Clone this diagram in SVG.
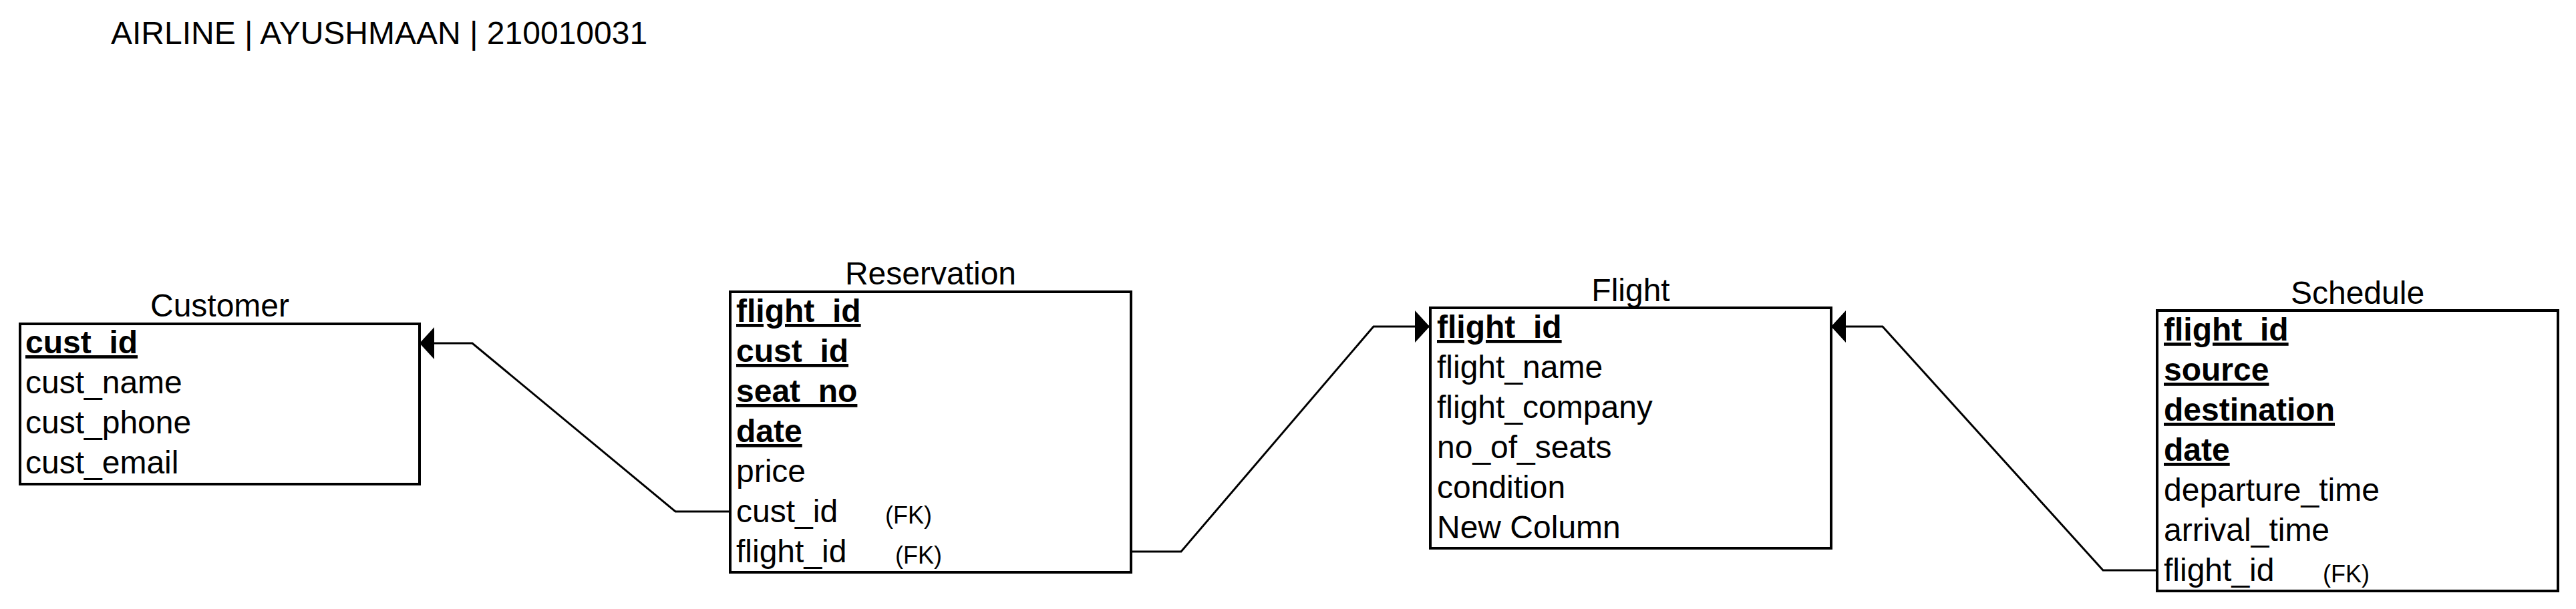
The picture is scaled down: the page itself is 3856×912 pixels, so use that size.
<svg xmlns="http://www.w3.org/2000/svg" width="3856" height="912" viewBox="0 0 3856 912">
<style>
text{font-family:"Liberation Sans",Arial,Helvetica,sans-serif;fill:#000}
.t{font-size:48px}
.h{font-size:48px;text-anchor:middle}
.r{font-size:48px}
.pk{font-size:48px;font-weight:bold;text-decoration:underline}
.fk{font-size:36px}
.box{fill:#fff;stroke:#000;stroke-width:4}
.edge{fill:none;stroke:#000;stroke-width:3}
</style>
<defs>
<marker id="arr" viewBox="0 0 22 48" refX="22" refY="24" markerWidth="22" markerHeight="48" markerUnits="userSpaceOnUse" orient="auto">
<path d="M0,0 L22,24 L0,48 Z" fill="#000"/>
</marker>
</defs>
<rect width="3856" height="912" fill="#fff"/>
<text class="t" x="166" y="66">AIRLINE | AYUSHMAAN | 210010031</text>
<g id="customer">
<text class="h" x="329" y="474">Customer</text>
<rect class="box" x="30" y="485" width="598" height="240"/>
<text class="pk" x="38" y="529">cust_id</text>
<text class="r" x="38" y="589">cust_name</text>
<text class="r" x="38" y="649">cust_phone</text>
<text class="r" x="38" y="709">cust_email</text>
</g>
<g id="reservation">
<text class="h" x="1393" y="426">Reservation</text>
<rect class="box" x="1093" y="437" width="600" height="420"/>
<text class="pk" x="1102" y="482">flight_id</text>
<text class="pk" x="1102" y="542">cust_id</text>
<text class="pk" x="1102" y="602">seat_no</text>
<text class="pk" x="1102" y="662">date</text>
<text class="r" x="1102" y="722">price</text>
<text class="r" x="1102" y="782">cust_id</text>
<text class="fk" x="1325" y="784">(FK)</text>
<text class="r" x="1102" y="842">flight_id</text>
<text class="fk" x="1340" y="844">(FK)</text>
</g>
<g id="flight">
<text class="h" x="2441" y="451">Flight</text>
<rect class="box" x="2141" y="461" width="600" height="360"/>
<text class="pk" x="2151" y="506">flight_id</text>
<text class="r" x="2151" y="566">flight_name</text>
<text class="r" x="2151" y="626">flight_company</text>
<text class="r" x="2151" y="686">no_of_seats</text>
<text class="r" x="2151" y="746">condition</text>
<text class="r" x="2151" y="806">New Column</text>
</g>
<g id="schedule">
<text class="h" x="3529" y="455">Schedule</text>
<rect class="box" x="3229" y="465" width="600" height="420"/>
<text class="pk" x="3239" y="510">flight_id</text>
<text class="pk" x="3239" y="570">source</text>
<text class="pk" x="3239" y="630">destination</text>
<text class="pk" x="3239" y="690">date</text>
<text class="r" x="3239" y="750">departure_time</text>
<text class="r" x="3239" y="810">arrival_time</text>
<text class="r" x="3239" y="870">flight_id</text>
<text class="fk" x="3477" y="872">(FK)</text>
</g>
<g id="connectors">
<path class="edge" d="M1093,766 H1011 L707,514 H628" marker-end="url(#arr)"/>
<path class="edge" d="M1693,826 H1768 L2056,489 H2140" marker-end="url(#arr)"/>
<path class="edge" d="M3229,854 H3148 L2818,489 H2741" marker-end="url(#arr)"/>
</g>
</svg>
